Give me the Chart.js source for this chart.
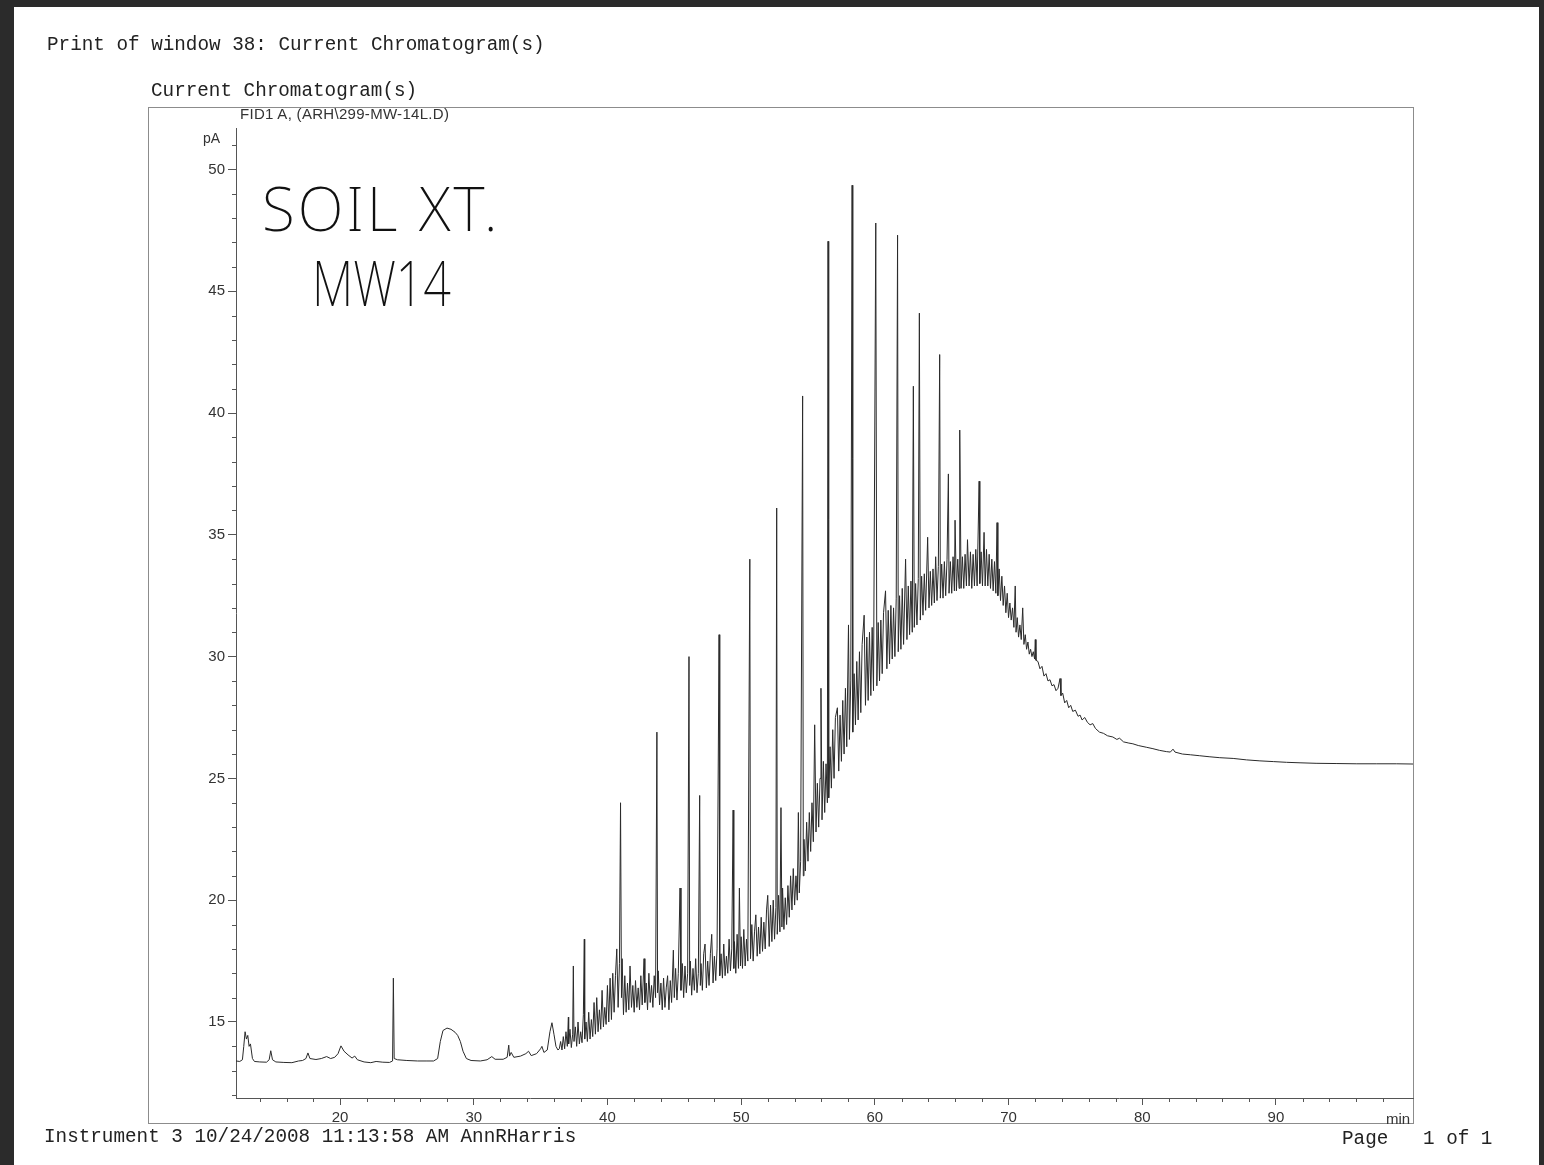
<!DOCTYPE html>
<html>
<head>
<meta charset="utf-8">
<script src="https://cdn.jsdelivr.net/npm/chart.js@4.4.1/dist/chart.umd.min.js"></script>
<style>
    html, body { margin: 0; padding: 0; width: 1544px; height: 1165px; overflow: hidden; background: #2b2b2b; }
    #page { position: absolute; left: 14px; top: 7px; width: 1525px; height: 1158px; background: #fff; }
    #frame { position: absolute; left: 148px; top: 107px; width: 1264px; height: 1015px; border: 1px solid #8c8c8c; }
    canvas { position: absolute; left: 0; top: 0; }
    .mono { position: absolute; font-family: "Liberation Mono", "Courier New", monospace; font-size: 19.3px; line-height: 19px; color: #222; white-space: pre; }
    .sans { position: absolute; font-family: "Liberation Sans", Arial, sans-serif; color: #333; white-space: pre; line-height: 1; }
    .hand { position: absolute; font-family: "Noto Sans", sans-serif; font-weight: 200; color: #111; white-space: pre; line-height: 1; }
</style>
</head>
<body>
<div id="page"></div>
<div id="frame"></div>
<canvas id="chromChart" width="1544" height="1165"></canvas>

<div class="mono" style="left:47px; top:36px;">Print of window 38: Current Chromatogram(s)</div>
<div class="mono" style="left:151px; top:82px;">Current Chromatogram(s)</div>
<div class="sans" style="left:240px; top:106px; font-size:15px; letter-spacing:0.3px;">FID1 A, (ARH\299-MW-14L.D)</div>
<div class="sans" style="left:203px; top:131px; font-size:14px;">pA</div>
<div class="sans" style="left:1386px; top:1111px; font-size:15px;">min</div>
<div class="hand" style="left:262px; top:178px; font-size:60px; letter-spacing:3px;">SOIL XT.</div>
<div class="hand" style="left:312px; top:251px; font-size:62px; transform:scaleX(0.78); transform-origin:left top;">MW14</div>
<div class="mono" style="left:44px; top:1128px;">Instrument 3 10/24/2008 11:13:58 AM AnnRHarris</div>
<div class="mono" style="left:1342px; top:1130px;">Page   1 of 1</div>

<script>
// retention time (min), signal (pA)
const earlyTrace = [
    [12.22, 13.40], [12.5, 13.38], [12.7, 13.45], [12.8, 14.0], [12.9, 14.6], [13.0, 14.3], [13.1, 14.45],
    [13.2, 14.0], [13.3, 14.1], [13.45, 13.5], [13.6, 13.38], [14.0, 13.36], [14.5, 13.35], [14.7, 13.45],
    [14.82, 13.82], [14.95, 13.45], [15.2, 13.36], [15.8, 13.34], [16.4, 13.33], [16.9, 13.4], [17.2, 13.42],
    [17.45, 13.5], [17.6, 13.73], [17.75, 13.5], [18.2, 13.46], [18.6, 13.5], [19.0, 13.58], [19.3, 13.5],
    [19.6, 13.55], [19.85, 13.7], [20.07, 14.02], [20.3, 13.8], [20.6, 13.65], [20.9, 13.52], [21.1, 13.6],
    [21.3, 13.45], [21.8, 13.36], [22.3, 13.33], [22.7, 13.38], [23.2, 13.35], [23.7, 13.34], [23.93, 13.4],
    [23.99, 16.8], [24.05, 13.5], [24.3, 13.45], [25.0, 13.42], [25.8, 13.4], [26.5, 13.4], [27.0, 13.4],
    [27.3, 13.5], [27.5, 14.2], [27.7, 14.65], [28.0, 14.75], [28.3, 14.7], [28.6, 14.58], [28.8, 14.45],
    [29.0, 14.2], [29.2, 13.8], [29.45, 13.5], [29.8, 13.42], [30.5, 13.4], [31.0, 13.45], [31.35, 13.58],
    [31.6, 13.47], [32.2, 13.47], [32.5, 13.55], [32.62, 14.05], [32.68, 13.6], [32.8, 13.75], [33.0, 13.55],
    [33.5, 13.6], [33.9, 13.7], [34.1, 13.8], [34.3, 13.62], [34.7, 13.7], [35.0, 13.9], [35.1, 14.0],
    [35.25, 13.75], [35.5, 13.85], [35.7, 14.6], [35.85, 14.97], [36.0, 14.5], [36.15, 14.0], [36.3, 13.85]
];

const humpTrace = [
    [36.4, 13.9], [36.5, 14.2], [36.6, 13.85], [36.7, 14.4], [36.8, 13.9], [36.9, 14.6], [37.0, 14.0],
    [37.08, 15.2], [37.1, 14.1], [37.2, 14.7], [37.3, 13.95], [37.4, 14.5], [37.45, 17.3], [37.5, 14.2],
    [37.6, 14.8], [37.7, 14.0], [37.8, 15.0], [37.9, 14.1], [38.0, 14.6], [38.1, 14.15], [38.2, 15.3],
    [38.27, 18.4], [38.3, 14.3], [38.4, 15.0], [38.5, 14.2], [38.6, 15.4], [38.7, 14.3], [38.8, 15.1],
    [38.9, 14.4], [39.0, 15.8], [39.1, 14.5], [39.2, 16.0], [39.3, 14.6], [39.4, 15.5], [39.5, 14.7],
    [39.6, 16.3], [39.7, 14.8], [39.8, 15.6], [39.9, 14.9], [40.0, 16.5], [40.1, 15.0], [40.2, 16.8],
    [40.3, 15.1], [40.4, 17.0], [40.5, 15.4], [40.6, 16.9], [40.7, 18.0], [40.8, 15.6], [40.9, 17.4],
    [40.98, 24.0], [41.05, 16.0], [41.1, 17.6], [41.2, 15.3], [41.3, 16.9], [41.4, 15.4], [41.5, 16.6],
    [41.6, 15.5], [41.69, 17.3], [41.8, 15.6], [41.9, 16.5], [42.0, 15.4], [42.1, 16.7], [42.2, 15.6],
    [42.3, 16.4], [42.4, 15.5], [42.5, 16.9], [42.6, 15.7], [42.74, 17.6], [42.8, 15.8], [42.9, 16.6],
    [43.0, 15.5], [43.1, 17.0], [43.2, 15.8], [43.3, 16.5], [43.4, 15.6], [43.5, 16.9], [43.6, 16.0],
    [43.7, 26.9], [43.75, 16.2], [43.8, 17.1], [43.9, 15.7], [44.0, 16.6], [44.1, 15.5], [44.2, 16.8],
    [44.3, 15.6], [44.4, 16.4], [44.5, 16.9], [44.6, 15.5], [44.7, 16.7], [44.8, 15.8], [44.93, 17.95],
    [45.0, 16.0], [45.1, 17.2], [45.2, 15.9], [45.3, 17.0], [45.43, 20.5], [45.5, 16.3], [45.6, 17.4],
    [45.7, 16.0], [45.8, 17.3], [45.9, 16.2], [46.0, 17.0], [46.1, 30.0], [46.15, 16.5], [46.2, 17.5],
    [46.3, 16.1], [46.4, 17.2], [46.5, 16.3], [46.6, 17.6], [46.7, 16.2], [46.8, 17.0], [46.9, 24.3],
    [46.95, 16.5], [47.0, 17.4], [47.1, 16.3], [47.2, 17.8], [47.3, 18.2], [47.4, 16.4], [47.5, 17.5],
    [47.6, 16.5], [47.7, 17.8], [47.8, 18.6], [47.9, 16.6], [48.0, 17.7], [48.1, 16.7], [48.2, 18.0],
    [48.35, 30.9], [48.4, 16.9], [48.5, 17.8], [48.6, 16.8], [48.7, 18.2], [48.8, 16.9], [48.9, 17.7],
    [49.0, 17.0], [49.1, 18.4], [49.2, 17.1], [49.3, 18.0], [49.4, 23.7], [49.45, 17.2], [49.5, 18.3],
    [49.6, 17.0], [49.7, 18.6], [49.8, 17.2], [49.87, 20.5], [49.95, 17.3], [50.0, 18.5], [50.1, 17.2],
    [50.2, 18.8], [50.3, 17.3], [50.4, 18.4], [50.5, 17.5], [50.65, 34.0], [50.7, 17.6], [50.8, 19.0],
    [50.9, 17.5], [51.0, 18.7], [51.1, 19.4], [51.2, 17.7], [51.3, 18.9], [51.4, 17.8], [51.5, 19.3],
    [51.6, 17.9], [51.7, 19.1], [51.8, 18.0], [51.9, 19.6], [51.99, 20.2], [52.1, 18.1], [52.2, 19.8],
    [52.3, 18.3], [52.4, 20.0], [52.5, 18.4], [52.6, 19.7], [52.66, 36.1], [52.7, 18.6], [52.8, 20.2],
    [52.9, 18.7], [52.98, 23.8], [53.05, 18.9], [53.1, 20.5], [53.2, 18.8], [53.3, 20.1], [53.4, 19.0],
    [53.5, 20.6], [53.6, 19.3], [53.7, 21.0], [53.8, 19.6], [53.9, 21.3], [54.0, 19.8], [54.1, 21.0],
    [54.2, 20.0], [54.28, 23.6], [54.35, 20.3], [54.45, 21.6], [54.6, 40.7], [54.65, 21.0], [54.7, 22.5],
    [54.8, 21.2], [54.9, 23.2], [55.0, 21.6], [55.1, 23.6], [55.2, 22.0], [55.3, 24.0], [55.4, 22.4],
    [55.5, 27.2], [55.6, 22.8], [55.7, 24.8], [55.8, 23.0], [55.9, 25.0], [55.97, 28.7], [56.05, 23.3],
    [56.15, 25.7], [56.25, 23.6], [56.35, 25.6], [56.45, 24.0], [56.5, 47.05], [56.55, 24.2], [56.65, 26.3],
    [56.75, 24.6], [56.85, 27.0], [56.95, 25.0], [57.05, 27.5], [57.2, 27.9], [57.3, 25.3], [57.4, 27.6],
    [57.5, 25.7], [57.6, 28.2], [57.7, 26.0], [57.8, 28.7], [57.9, 26.3], [58.03, 31.3], [58.1, 26.6],
    [58.2, 29.0], [58.3, 49.35], [58.35, 26.9], [58.45, 29.3], [58.55, 27.2], [58.65, 29.8], [58.75, 27.4],
    [58.85, 30.2], [58.95, 27.7], [59.05, 30.5], [59.2, 31.7], [59.3, 28.0], [59.4, 30.8], [59.5, 28.2],
    [59.6, 31.0], [59.7, 28.4], [59.8, 31.2], [59.9, 28.6], [60.07, 47.8], [60.15, 28.8], [60.25, 31.4],
    [60.35, 29.0], [60.45, 31.5], [60.55, 29.3], [60.65, 31.8], [60.8, 32.7], [60.9, 29.5], [61.0, 31.9],
    [61.1, 29.7], [61.2, 32.1], [61.3, 29.9], [61.4, 32.0], [61.5, 30.0], [61.6, 32.4], [61.7, 47.3],
    [61.75, 30.2], [61.85, 32.5], [61.95, 30.3], [62.05, 32.8], [62.15, 30.5], [62.3, 34.0], [62.4, 30.7],
    [62.5, 32.9], [62.6, 30.9], [62.7, 33.1], [62.8, 31.0], [62.88, 41.1], [62.95, 31.2], [63.05, 33.0],
    [63.15, 31.3], [63.25, 33.2], [63.33, 44.1], [63.4, 31.5], [63.5, 33.3], [63.6, 31.7], [63.7, 33.4],
    [63.8, 31.9], [63.95, 34.9], [64.05, 32.0], [64.15, 33.5], [64.25, 32.1], [64.35, 33.6], [64.45, 32.2],
    [64.55, 34.1], [64.65, 32.3], [64.75, 33.7], [64.85, 42.4], [64.9, 32.4], [65.0, 33.8], [65.1, 32.4],
    [65.2, 33.9], [65.3, 32.5], [65.4, 34.0], [65.5, 37.5], [65.55, 32.6], [65.65, 33.9], [65.75, 32.6],
    [65.85, 34.1], [65.95, 32.7], [66.0, 35.6], [66.1, 32.7], [66.2, 34.0], [66.3, 32.8], [66.35, 39.3],
    [66.45, 32.8], [66.55, 34.1], [66.65, 32.8], [66.75, 34.2], [66.85, 32.9], [66.93, 34.8], [67.05, 32.9],
    [67.15, 34.3], [67.25, 32.8], [67.35, 34.2], [67.45, 32.9], [67.55, 34.4], [67.65, 32.9], [67.8, 37.2],
    [67.85, 33.0], [67.95, 34.3], [68.05, 32.9], [68.17, 35.1], [68.25, 32.9], [68.35, 34.4], [68.45, 32.9],
    [68.55, 34.2], [68.65, 32.8], [68.75, 34.0], [68.85, 32.7], [68.95, 33.9], [69.05, 32.6], [69.14, 35.5],
    [69.2, 32.5], [69.3, 33.6], [69.4, 32.3], [69.5, 33.3], [69.6, 32.1], [69.7, 32.9], [69.8, 31.8],
    [69.9, 32.6], [70.0, 31.6], [70.1, 32.2], [70.2, 31.5], [70.3, 32.0], [70.4, 31.2], [70.5, 32.9],
    [70.56, 31.0], [70.65, 31.6], [70.75, 30.8], [70.85, 31.3], [70.95, 30.7], [71.06, 32.0], [71.15, 30.5],
    [71.25, 30.9], [71.35, 30.3], [71.45, 30.6], [71.55, 30.1], [71.65, 30.3], [71.75, 30.0], [71.85, 30.2],
    [71.95, 29.9], [72.0, 30.7], [72.05, 29.85]
];

const tailTrace = [
    [72.2, 29.8], [72.35, 29.5], [72.5, 29.6], [72.65, 29.2], [72.8, 29.3], [72.95, 29.0], [73.1, 29.05],
    [73.25, 28.8], [73.4, 28.85], [73.55, 28.6], [73.7, 28.7], [73.85, 29.1], [73.92, 28.4], [74.05, 28.5],
    [74.2, 28.1], [74.35, 28.2], [74.5, 27.9], [74.65, 28.0], [74.8, 27.75], [75.0, 27.8], [75.2, 27.55],
    [75.35, 27.6], [75.5, 27.4], [75.7, 27.5], [75.9, 27.3], [76.1, 27.2], [76.3, 27.25], [76.5, 27.05],
    [76.8, 26.9], [77.1, 26.85], [77.4, 26.75], [77.8, 26.7], [78.1, 26.6], [78.3, 26.65], [78.6, 26.5],
    [79.0, 26.45], [79.3, 26.42], [79.7, 26.35], [80.3, 26.28], [80.8, 26.22], [81.3, 26.15], [81.8, 26.1],
    [82.1, 26.08], [82.3, 26.2], [82.45, 26.08], [83.0, 26.0], [83.6, 25.97], [84.3, 25.93], [85.0, 25.89],
    [85.8, 25.85], [86.8, 25.82], [87.8, 25.76], [88.8, 25.72], [89.8, 25.69], [90.8, 25.66], [91.8, 25.64],
    [93.0, 25.62], [94.5, 25.61], [96.0, 25.6], [97.5, 25.6], [99.0, 25.6], [100.25, 25.59]
];

const yMajorTicks = [15, 20, 25, 30, 35, 40, 45, 50];
const yMinorTicks = [12, 13, 14, 16, 17, 18, 19, 21, 22, 23, 24, 26, 27, 28, 29, 31, 32, 33, 34,
    36, 37, 38, 39, 41, 42, 43, 44, 46, 47, 48, 49, 51];
const xMajorTicks = [20, 30, 40, 50, 60, 70, 80, 90];
const xMinorTicks = [14, 16, 18, 22, 24, 26, 28, 32, 34, 36, 38, 42, 44, 46, 48, 52, 54, 56, 58,
    62, 64, 66, 68, 72, 74, 76, 78, 82, 84, 86, 88, 92, 94, 96, 98];

document.addEventListener("DOMContentLoaded", () => {
    const ctx = document.getElementById("chromChart").getContext("2d");

    const points = [...earlyTrace, ...humpTrace, ...tailTrace].map(([t, pa]) => ({ x: t, y: pa }));

    // short ticks between the labelled ones
    const minorTicks = {
        id: "minorTicks",
        afterDraw(chart) {
            const c = chart.ctx;
            const area = chart.chartArea;
            c.save();
            c.strokeStyle = "#555";
            c.lineWidth = 1;
            c.beginPath();
            yMinorTicks.forEach(v => {
                const py = Math.round(chart.scales.y.getPixelForValue(v)) + 0.5;
                c.moveTo(area.left - 4, py);
                c.lineTo(area.left, py);
            });
            xMinorTicks.forEach(v => {
                const px = Math.round(chart.scales.x.getPixelForValue(v)) + 0.5;
                c.moveTo(px, area.bottom);
                c.lineTo(px, area.bottom + 4);
            });
            c.stroke();
            c.restore();
        }
    };

    new Chart(ctx, {
        type: "line",
        data: {
            datasets: [
                {
                    label: "FID1 A",
                    data: points,
                    borderColor: "#2a2a2a",
                    borderWidth: 1,
                    pointRadius: 0,
                    tension: 0,
                    fill: false
                }
            ]
        },
        options: {
            responsive: false,
            animation: false,
            events: [],
            layout: {
                padding: { left: 186, top: 128, right: 131, bottom: 37 }
            },
            plugins: {
                legend: { display: false },
                tooltip: { enabled: false }
            },
            scales: {
                x: {
                    type: "linear",
                    min: 12.22,
                    max: 100.25,
                    afterBuildTicks: scale => { scale.ticks = xMajorTicks.map(v => ({ value: v })); },
                    afterFit: scale => { scale.height = 30; },
                    ticks: {
                        autoSkip: false,
                        maxRotation: 0,
                        padding: 4,
                        color: "#333",
                        font: { family: "Liberation Sans, Arial, sans-serif", size: 15 }
                    },
                    grid: {
                        drawOnChartArea: false,
                        tickLength: 7,
                        tickColor: "#555"
                    },
                    border: { color: "#555", width: 1 }
                },
                y: {
                    type: "linear",
                    min: 11.88,
                    max: 51.7,
                    afterBuildTicks: scale => { scale.ticks = yMajorTicks.map(v => ({ value: v })); },
                    afterFit: scale => { scale.width = 50; },
                    ticks: {
                        padding: 3,
                        color: "#333",
                        font: { family: "Liberation Sans, Arial, sans-serif", size: 15 }
                    },
                    grid: {
                        drawOnChartArea: false,
                        tickLength: 8,
                        tickColor: "#555"
                    },
                    border: { color: "#555", width: 1 }
                }
            }
        },
        plugins: [minorTicks]
    });
});
</script>
</body>
</html>
